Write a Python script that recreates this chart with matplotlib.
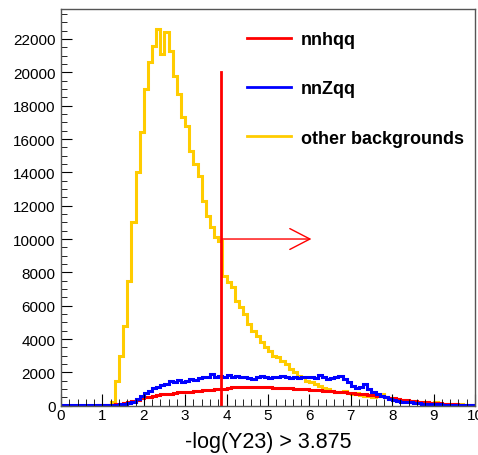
import matplotlib
matplotlib.use("Agg")
import matplotlib.pyplot as plt
from matplotlib.lines import Line2D
from matplotlib.ticker import MultipleLocator
import numpy as np

plt.rcParams['font.family'] = ['Liberation Sans', 'DejaVu Sans']

# histogram binning: 100 bins on [0, 10]
x_lo, x_hi, n_bins = 0.0, 10.0, 100
edges = np.linspace(x_lo, x_hi, n_bins + 1)

# other backgrounds (yellow)
other_bkg = [
    0, 0, 0, 0, 0, 0, 0, 0, 0, 0,
    0, 0, 200, 1500, 3000, 4800, 7500, 11000, 14000, 16400,
    19000, 20600, 21600, 22600, 21100, 22400, 21300, 19800, 18700, 17300,
    16800, 15300, 14500, 13800, 12300, 11400, 10700, 10100, 9900, 7800,
    7400, 7100, 6300, 5900, 5500, 4900, 4500, 4200, 3800, 3500,
    3300, 3000, 2900, 2700, 2500, 2200, 2000, 1800, 1700, 1500,
    1400, 1300, 1200, 1050, 1000, 900, 850, 800, 900, 750,
    700, 750, 650, 600, 600, 550, 600, 700, 550, 400,
    350, 300, 350, 300, 280, 250, 220, 200, 200, 180,
    250, 150, 130, 120, 100, 90, 80, 60, 50, 40,
]

# nnZqq (blue)
nnzqq = [
    20, 20, 20, 20, 20, 20, 20, 20, 20, 20,
    30, 40, 50, 60, 80, 100, 150, 250, 400, 600,
    750, 900, 1050, 1150, 1250, 1300, 1500, 1450, 1550, 1400,
    1500, 1600, 1550, 1650, 1700, 1750, 1900, 1750, 1800, 1700,
    1850, 1750, 1800, 1700, 1750, 1650, 1600, 1750, 1800, 1700,
    1650, 1700, 1750, 1800, 1700, 1650, 1750, 1650, 1700, 1750,
    1700, 1650, 1850, 1750, 1600, 1650, 1750, 1800, 1600, 1450,
    1200, 1050, 1100, 1300, 1000, 850, 700, 600, 500, 420,
    350, 300, 250, 220, 200, 180, 150, 130, 110, 100,
    90, 80, 70, 60, 55, 50, 40, 35, 30, 20,
]

# nnhqq (red)
nnhqq = [
    0, 0, 0, 0, 0, 0, 0, 0, 0, 20,
    40, 50, 70, 90, 110, 150, 200, 280, 350, 450,
    500, 550, 600, 650, 680, 700, 730, 780, 800, 810,
    830, 850, 870, 900, 920, 950, 960, 980, 1000, 1000,
    1050, 1100, 1150, 1150, 1150, 1150, 1120, 1130, 1120, 1100,
    1100, 1080, 1070, 1060, 1050, 1050, 1030, 1020, 1000, 990,
    970, 950, 930, 910, 890, 870, 850, 830, 800, 780,
    750, 720, 700, 680, 650, 620, 590, 560, 520, 480,
    440, 400, 370, 340, 300, 280, 250, 220, 200, 180,
    160, 140, 120, 110, 90, 80, 70, 50, 40, 30,
]

cut_value = 3.875
cut_top = 20000
arrow_y = 10000
arrow_end = 6.05
y_max = 23800

fig = plt.figure(figsize=(4.78, 4.56), dpi=100)
ax = fig.add_axes([0.1276, 0.1081, 0.8661, 0.8700])

yellow = '#ffcc00'
ax.stairs(other_bkg, edges, color=yellow, lw=2.2)
ax.stairs(nnhqq, edges, color='red', lw=2.2)
ax.stairs(nnzqq, edges, color='blue', lw=2.2)

# cut line and arrow
ax.plot([cut_value, cut_value], [0, cut_top], color='red', lw=2)
ax.annotate('', xy=(arrow_end, arrow_y), xytext=(cut_value, arrow_y),
            arrowprops=dict(arrowstyle='->,head_length=1.45,head_width=0.75',
                            color='red', lw=1, shrinkA=0, shrinkB=0))

ax.set_xlim(x_lo, x_hi)
ax.set_ylim(0, y_max)
ax.xaxis.set_major_locator(MultipleLocator(1))
ax.xaxis.set_minor_locator(MultipleLocator(0.2))
ax.yaxis.set_major_locator(MultipleLocator(2000))
ax.yaxis.set_minor_locator(MultipleLocator(500))
ax.tick_params(which='both', direction='in', top=False, right=False,
               labelsize=11, colors='black')
ax.tick_params(axis='x', which='major', length=9, pad=2)
ax.tick_params(axis='x', which='minor', length=5)
ax.tick_params(axis='y', which='major', length=8, pad=4)
ax.tick_params(axis='y', which='minor', length=4)
for sp in ax.spines.values():
    sp.set_color('#555555')
    sp.set_linewidth(1)

ax.set_xlabel('-log(Y23) > 3.875', fontsize=15.5, labelpad=6)

handles = [Line2D([], [], color='red', lw=2),
           Line2D([], [], color='blue', lw=2),
           Line2D([], [], color=yellow, lw=2)]
labels = ['nnhqq', 'nnZqq', 'other backgrounds']
leg = fig.legend(handles, labels, loc='upper left',
                 bbox_to_anchor=(231 / 478, 1 - 16 / 456), frameon=False,
                 handlelength=2.4, handletextpad=0.55, labelspacing=1.78,
                 prop={'weight': 'bold', 'size': 13})

fig.savefig('out.png', dpi=100)
